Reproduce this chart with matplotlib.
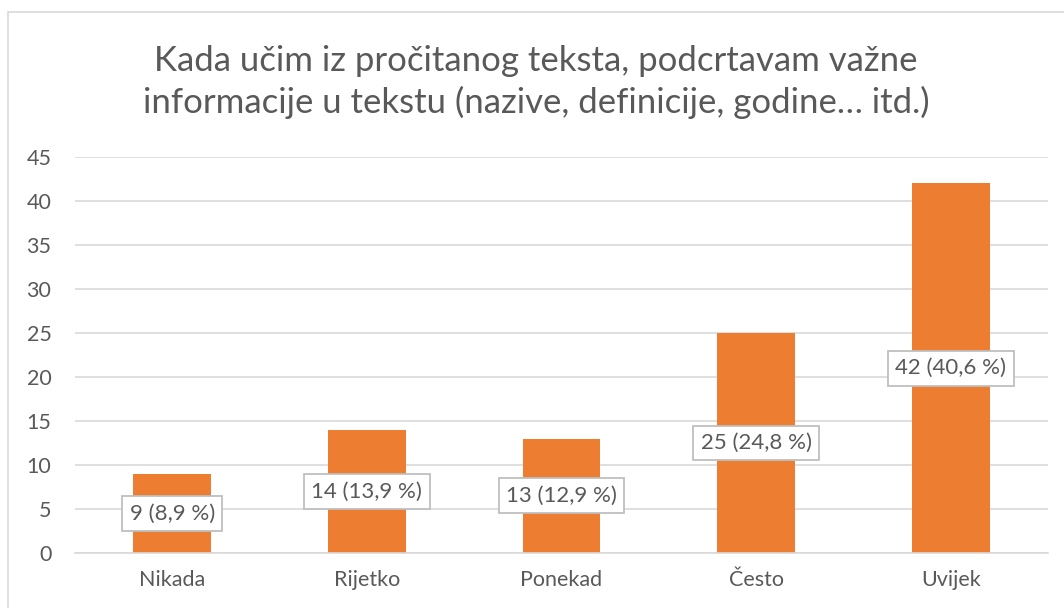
import matplotlib
matplotlib.use("Agg")
import matplotlib.pyplot as plt
from matplotlib.patches import Rectangle

categories = ["Nikada", "Rijetko", "Ponekad", "Često", "Uvijek"]
values = [9, 14, 13, 25, 42]
percents = ["8,9", "13,9", "12,9", "24,8", "40,6"]
yticks = [0, 5, 10, 15, 20, 25, 30, 35, 40, 45]
title = "Kada učim iz pročitanog teksta, podcrtavam važne\ninformacije u tekstu (nazive, definicije, godine… itd.)"

plt.rcParams['font.family'] = ['Lato', 'DejaVu Sans']
W, H = 1064, 608
fig = plt.figure(figsize=(W/100, H/100), dpi=100)
fig.patches.append(Rectangle((8/W, -0.05), 1.1, 1 - 12/H + 0.05, transform=fig.transFigure,
                             fill=False, edgecolor="#d9d9d9", linewidth=1.2))
ax = fig.add_axes([75/W, 1 - 553/H, (1048 - 75)/W, (553 - 157)/H])
x = list(range(len(categories)))
ax.bar(x, values, width=0.4, color="#ED7D31", zorder=2)
ax.set_ylim(0, 45)
ax.set_xlim(-0.5, len(categories) - 0.5)
ax.set_yticks(yticks)
ax.set_xticks(x)
ax.set_xticklabels(categories)
ax.yaxis.grid(True, color="#d9d9d9", linewidth=1.2, zorder=0)
ax.set_axisbelow(True)
for s in ax.spines.values():
    s.set_visible(False)
ax.spines['bottom'].set_visible(True)
ax.spines['bottom'].set_color("#d9d9d9")
ax.spines['bottom'].set_linewidth(1.2)
ax.tick_params(axis='both', length=0, labelsize=15.5, colors="#595959")
ax.tick_params(axis='x', pad=12)
ax.tick_params(axis='y', pad=17)
for xi, v, p in zip(x, values, percents):
    ax.text(xi, v / 2, f"{v} ({p} %)", ha="center", va="center", fontsize=16, color="#595959",
            zorder=3, bbox=dict(boxstyle="square,pad=0.33", facecolor="white", edgecolor="#bfbfbf", linewidth=1.3))
fig.text(0.5 * (1 + 8/W), 1 - 82/H, title, ha="center", va="center", fontsize=25, color="#595959",
         linespacing=1.35)
fig.savefig("out.png", dpi=100)
